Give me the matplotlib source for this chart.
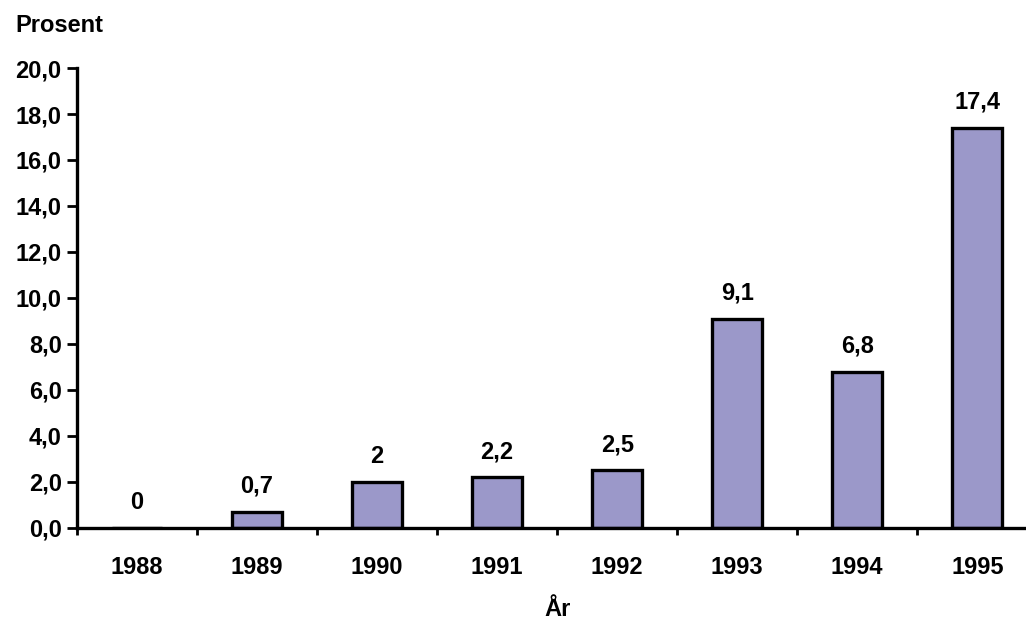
import matplotlib.pyplot as plt
import numpy as np

years = ['1988', '1989', '1990', '1991', '1992', '1993', '1994', '1995']
values = [0.0, 0.7, 2.0, 2.2, 2.5, 9.1, 6.8, 17.4]
value_labels = ['0', '0,7', '2', '2,2', '2,5', '9,1', '6,8', '17,4']
yticks = np.arange(0, 21, 2)

plt.rcParams['font.family'] = ['Liberation Sans', 'DejaVu Sans']
plt.rcParams['font.weight'] = 'bold'

fig = plt.figure(figsize=(10.26, 6.24), dpi=100)
ax = fig.add_axes([0.075, 0.154, 0.936, 0.737])

x = np.arange(len(years))
bars = ax.bar(x, values, width=0.42, color='#9b98c9', edgecolor='black', linewidth=2.4)

for xi, v, lab in zip(x, values, value_labels):
    ax.annotate(lab, (xi, v), xytext=(0, 10), textcoords='offset points',
                ha='center', va='bottom', fontsize=17)

ax.set_xlim(-0.5, len(years) - 0.5)
ax.set_ylim(0, 20)
ax.set_yticks(yticks)
ax.set_yticklabels([f'{t:.1f}'.replace('.', ',') for t in yticks], fontsize=17)
ax.set_xticks(x)
ax.set_xticklabels(years, fontsize=17)
ax.set_xticks(np.arange(-0.5, len(years), 1), minor=True)
ax.tick_params(axis='x', which='major', length=0, pad=20)
ax.tick_params(axis='x', which='minor', length=5, width=2, direction='out')
ax.tick_params(axis='y', length=7, width=2, direction='out', pad=4)

for s in ['top', 'right']:
    ax.spines[s].set_visible(False)
for s in ['left', 'bottom']:
    ax.spines[s].set_linewidth(2.4)

fig.text(0.015, 0.94, 'Prosent', fontsize=17, ha='left', va='bottom')
ax.set_xlabel('År', fontsize=17, fontweight='bold', labelpad=14)

fig.savefig('out.png', dpi=100)
